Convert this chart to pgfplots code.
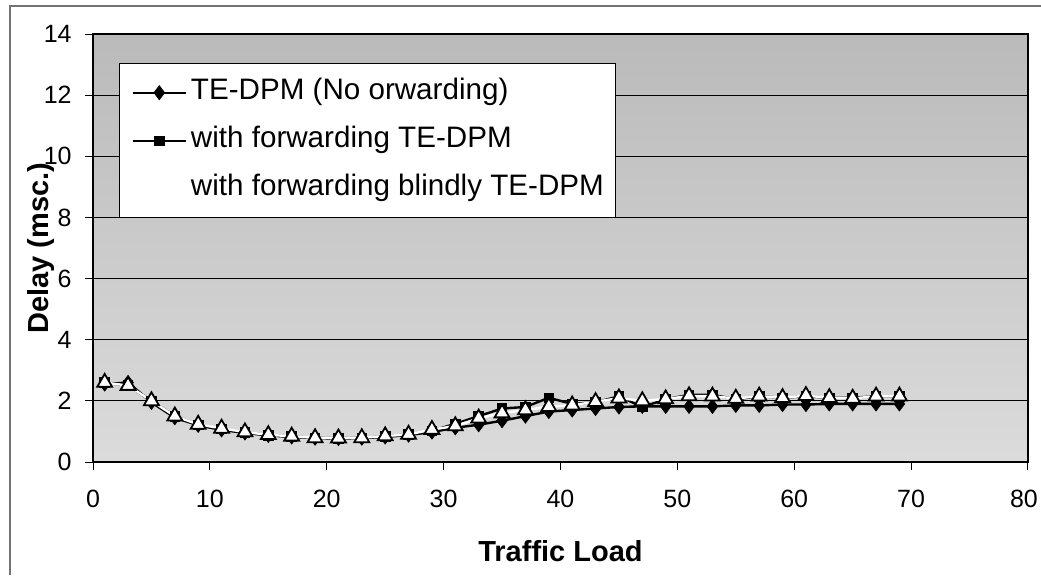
\documentclass[border=0pt]{standalone}
\usepackage{pgfplots}
\pgfplotsset{compat=1.18}
\usepackage{pgfplotstable}
\usepackage{fontspec}
\setmainfont{Liberation Sans}

\pgfplotstableread{
x   nofw  fw    blind
1   2.55  2.60  2.60
3   2.60  2.50  2.50
5   1.95  2.00  2.00
7   1.45  1.50  1.50
9   1.20  1.22  1.23
11  1.05  1.08  1.10
13  0.95  0.97  0.98
15  0.87  0.88  0.89
17  0.82  0.83  0.84
19  0.78  0.79  0.79
21  0.77  0.78  0.78
23  0.78  0.79  0.79
25  0.82  0.84  0.85
27  0.88  0.90  0.90
29  0.98  1.02  1.06
31  1.12  1.25  1.18
33  1.22  1.50  1.43
35  1.35  1.75  1.60
37  1.50  1.80  1.70
39  1.65  2.10  1.81
41  1.70  1.90  1.86
43  1.75  1.95  1.97
45  1.80  2.15  2.09
47  1.82  1.80  2.00
49  1.82  2.05  2.06
51  1.82  2.20  2.16
53  1.82  2.20  2.15
55  1.85  2.05  2.08
57  1.85  2.15  2.15
59  1.88  2.10  2.10
61  1.88  2.15  2.17
63  1.90  2.10  2.10
65  1.90  2.10  2.08
67  1.90  2.15  2.15
69  1.90  2.15  2.15
}\datatable

\begin{document}
\begin{tikzpicture}
\path[use as bounding box] (0pt,0pt) rectangle (520.5pt,287.5pt);
\draw[black!55, line width=0.6pt] (5pt,0pt) -- (5pt,284.5pt) -- (520.5pt,284.5pt);
\begin{axis}[
  at={(46.5pt,56.5pt)}, anchor=south west,
  scale only axis, width=467.5pt, height=214pt,
  xmin=0, xmax=80, ymin=0, ymax=14,
  xtick={0,10,...,80}, ytick={0,2,...,14},
  xticklabels={0,10,20,30,40,50,60,70,{80\hspace*{4pt}}},
  xtick pos=bottom, ytick pos=left,
  tick align=outside, major tick length=4pt,
  tick style={black, line width=0.5pt},
  axis line style={black, line width=0.8pt},
  ymajorgrids, grid style={black, line width=0.6pt},
  axis background/.style={shade, top color=black!27, bottom color=black!14},
  /pgf/number format/assume math mode=true,
  ticklabel style={font=\fontsize{12.5}{15}\selectfont, inner sep=0pt},
  xticklabel style={anchor=north},
  xticklabel shift=10pt,
  yticklabel style={anchor=east, xshift=-6.5pt},
  xlabel={Traffic Load},
  ylabel={Delay (msc.)},
  label style={font=\bfseries\fontsize{14.5}{17}\selectfont},
  xlabel style={at={(axis description cs:0.5,-0.2336)}, anchor=base},
  ylabel style={at={(axis description cs:-0.048,0.5)}, anchor=base},
  legend cell align=left,
  legend style={at={(axis description cs:0.0278,0.932)}, anchor=north west,
    draw=black, fill=white, line width=0.6pt,
    font=\fontsize{14.8}{17}\selectfont,
    inner xsep=6pt, inner ysep=8pt, row sep=11pt, column sep=2pt,
    nodes={inner sep=0pt, text height=10pt, text depth=3pt}},
  legend image code/.code={\draw[mark repeat=2, mark phase=2]
     plot coordinates {(0pt,0pt) (13.25pt,0pt) (26.5pt,0pt)};},
]
\addplot[black, line width=1.2pt, mark=diamond*, mark size=3.5pt,
  mark options={solid, fill=black, line width=0.4pt}]
  table[x=x, y=nofw] {\datatable};
\addlegendentry{TE-DPM (No orwarding)}
\addplot[black, line width=1.2pt, mark=square*, mark size=2.4pt,
  mark options={solid, fill=black, line width=0.4pt}]
  table[x=x, y=fw] {\datatable};
\addlegendentry{with forwarding TE-DPM}
\addplot[white, line width=1.2pt, mark=triangle*, mark size=4.3pt,
  mark options={solid, fill=white, draw=black, line width=0.9pt},
  legend image code/.code={\path (0pt,0pt) -- (26.5pt,0pt);}]
  table[x=x, y=blind] {\datatable};
\addlegendentry{with forwarding blindly TE-DPM}
\end{axis}
\end{tikzpicture}
\end{document}
